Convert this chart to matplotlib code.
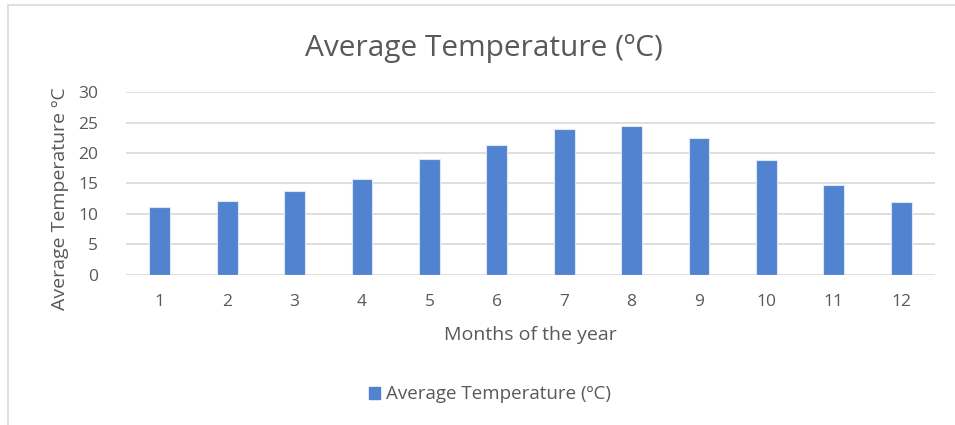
import matplotlib
matplotlib.use("Agg")
import matplotlib.pyplot as plt
from matplotlib.patches import Rectangle, Patch

# Average monthly temperature (ºC)
months = [1, 2, 3, 4, 5, 6, 7, 8, 9, 10, 11, 12]
temps = [11.2, 12.2, 13.7, 15.7, 19.0, 21.3, 24.0, 24.5, 22.5, 18.9, 14.7, 12.0]
yticks = [0, 5, 10, 15, 20, 25, 30]

bar_color = "#5183d0"
text_color = "#595959"
grid_color = "#d9d9d9"

plt.rcParams["font.family"] = ["Open Sans", "DejaVu Sans"]

fig = plt.figure(figsize=(9.55, 4.25), dpi=100)
ax = fig.add_axes([0.132, 0.353, 0.847, 0.4305])

# chart frame
fig.patches.append(Rectangle((0.008, -0.01), 1.1, 0.998, transform=fig.transFigure,
                             fill=False, edgecolor="#d9d9d9", linewidth=1.2))

x = list(range(len(months)))
ax.bar(x, temps, width=0.31, color=bar_color, edgecolor="#dbe6f7", linewidth=0.8, zorder=3)

ax.set_xlim(-0.5, len(months) - 0.5)
ax.set_ylim(0, 30)
ax.set_yticks(yticks)
ax.set_xticks(x)
ax.set_xticklabels([str(m) for m in months])
ax.yaxis.grid(True, color=grid_color, linewidth=1.2, zorder=0)
for s in ax.spines.values():
    s.set_visible(False)
ax.tick_params(length=0, labelsize=12.5, colors=text_color)
ax.tick_params(axis="x", pad=14)
ax.tick_params(axis="y", pad=20)

ax.set_xlabel("Months of the year", fontsize=14, color=text_color, labelpad=11)
ax.set_ylabel("Average Temperature ºC", fontsize=14, color=text_color)
ax.yaxis.set_label_coords(-0.07, 0.42)

fig.text(0.507, 0.885, "Average Temperature (ºC)", ha="center", va="center",
         fontsize=21.5, color=text_color)

handle = Patch(facecolor=bar_color, edgecolor=bar_color)
fig.legend([handle], ["Average Temperature (ºC)"], loc="center", bbox_to_anchor=(0.513, 0.072),
           frameon=False, fontsize=13.5, labelcolor=text_color, handlelength=0.6,
           handleheight=0.6, handletextpad=0.3)

fig.savefig("out.png", dpi=100, facecolor="white")
